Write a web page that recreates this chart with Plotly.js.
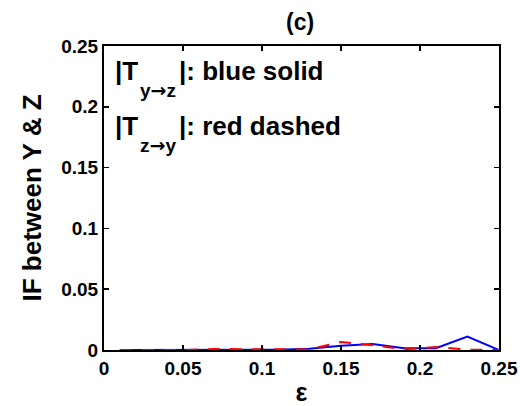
<!DOCTYPE html>
<html><head><meta charset="utf-8">
<script src="https://cdn.plot.ly/plotly-3.0.1.min.js"></script>
<style>body{margin:0;background:#fff}#c{width:520px;height:406px}</style>
</head><body><div id="c"></div>
<script>
const eps = [0.01,0.03,0.05,0.07,0.09,0.11,0.13,0.15,0.17,0.19,0.21,0.23,0.25];
const Tyz = [0,0,0,0.0003,0.0003,0.0003,0.001,0.0035,0.005,0.0015,0.0015,0.011,0];
const Tzy = [0,0,0,0.0008,0.0007,0.0002,0.0005,0.0065,0.004,0.0005,0.0025,0.0003,0];
const xticks = [0,0.05,0.1,0.15,0.2,0.25];
const yticks = [0,0.05,0.1,0.15,0.2,0.25];
const labelSubs = [['y','z'],['z','y']];
const labelRest = ['|: blue solid','|: red dashed'];
const F = 'Liberation Sans, Arial, sans-serif';
const traces = [
 {x:eps,y:Tyz,mode:'lines',line:{color:'#0000ff',width:2},showlegend:false},
 {x:eps,y:Tzy,mode:'lines',line:{color:'#ff0000',width:2,dash:'12px,10px'},showlegend:false}
];
const ax = {showgrid:false,zeroline:false,showline:true,linecolor:'#000',linewidth:2,mirror:'ticks',
 ticks:'inside',ticklen:5,tickwidth:1.5,tickcolor:'#000',tickfont:{family:F,size:19,color:'#000',weight:'bold'}};
const annotations = [];
const lineY = [0.918, 0.737];
labelSubs.forEach((s,i)=>{
  const base = {xref:'paper',yref:'paper',xanchor:'left',yanchor:'middle',showarrow:false};
  annotations.push(Object.assign({},base,{x:0.024,y:lineY[i],text:'<b>|T</b>',font:{family:F,size:26,color:'#000'}}));
  annotations.push(Object.assign({},base,{x:0.086,y:lineY[i]-0.062,
    text:'<b>'+s[0]+'<span style="font-family:DejaVu Sans">→</span>'+s[1]+'</b>',font:{family:F,size:19,color:'#000'}}));
  annotations.push(Object.assign({},base,{x:0.186,y:lineY[i],text:'<b>'+labelRest[i]+'</b>',font:{family:F,size:26,color:'#000'}}));
});
const layout = {
 width:520,height:406,margin:{l:104,r:21,t:46,b:56},paper_bgcolor:'#fff',plot_bgcolor:'#fff',
 title:{text:'<b>(c)</b>',font:{family:F,size:23,color:'#000'},x:0.577,xanchor:'center',y:0.946,yanchor:'middle'},
 xaxis:Object.assign({},ax,{range:[0,0.25],tickvals:xticks,ticktext:xticks.map(String),
   title:{text:'<b>ε</b>',font:{family:F,size:25,color:'#000'},standoff:6}}),
 yaxis:Object.assign({},ax,{range:[0,0.25],tickvals:yticks,ticktext:yticks.map(String),
   title:{text:'<b>IF between Y &amp; Z</b>',font:{family:F,size:26,color:'#000'},standoff:12}}),
 annotations:annotations
};
Plotly.newPlot('c',traces,layout,{displayModeBar:false,staticPlot:true});
</script></body></html>
